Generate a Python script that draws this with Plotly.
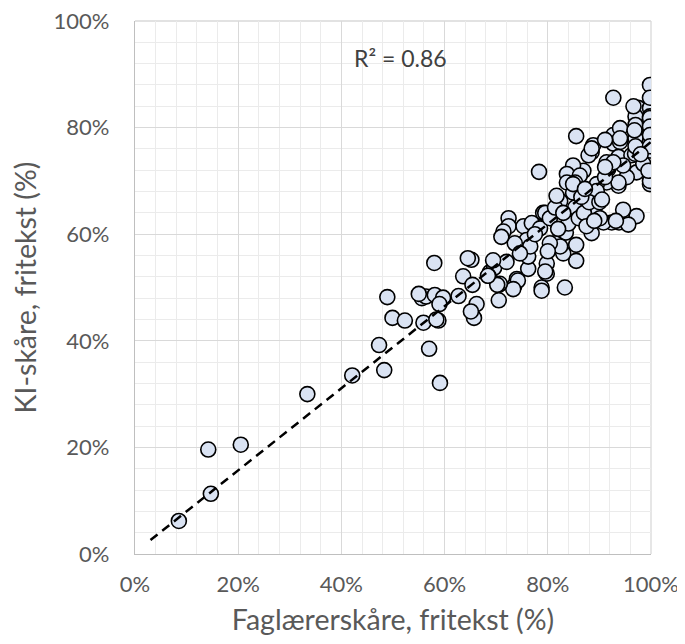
import plotly.graph_objects as go

# Teacher score (x, %) and AI score (y, %)
teacher_pct = [
    8.5, 14.7, 14.2, 20.5, 33.4, 42.1, 48.3, 47.3, 59.1, 57.0, 49.9, 52.3, 48.9, 55.9, 58.8, 58.4,
    55.6, 56.4, 58.1, 59.7, 59.0, 58.0, 62.7, 63.6, 65.2, 65.4, 66.2, 65.7, 65.1, 68.8, 69.6, 70.5,
    70.5, 74.0, 73.5, 72.0, 68.5,
    83.3, 85.5, 85.5, 83.0, 88.5, 83.5, 97.2, 93.8, 92.4, 90.8, 95.6, 94.6, 79.8, 79.8, 78.8, 78.8,
    74.2, 76.2, 73.3, 70.7, 76.2, 76.2, 72.4, 72.4, 74.6, 78.2, 79.1, 82.4, 81.4, 82.4, 99.8, 93.7,
    85.6, 78.3, 71.4, 69.4, 75.3, 76.9, 78.5, 79.5, 80.4, 81.4, 75.9, 73.6, 76.6, 74.6, 80.4, 81.7,
    92.7, 99.8, 85.5, 97.5, 99.8, 97.0, 99.8, 97.0, 99.8, 97.0, 99.8, 97.0, 99.8, 99.8, 88.8, 88.5,
    92.7, 92.7, 94.0, 93.7, 96.2, 97.2, 99.8, 91.4, 91.7, 87.9, 86.9, 84.9, 83.7, 86.2, 95.3, 94.6,
    92.7, 91.4, 89.5, 83.7, 85.3, 98.5, 99.5, 84.9, 96.6, 99.8, 99.8, 99.8, 99.8, 94.0, 94.0, 88.5,
    96.9, 84.9, 89.5, 85.3, 89.1, 90.1, 93.7, 91.1, 91.1, 91.1,
    84.0, 86.0, 87.0, 88.0, 90.0, 86.5, 83.0, 87.5, 89.0, 93.2, 70.2, 68.4, 55.0, 80.0, 79.5,
    97.0, 99.8, 96.8, 98.0, 90.5, 87.2, 82.0, 77.5, 71.0, 64.5,
]
ai_pct = [
    6.2, 11.3, 19.6, 20.5, 30.0, 33.5, 34.5, 39.2, 32.1, 38.5, 44.3, 43.8, 48.2, 43.4, 43.8, 44.0,
    48.0, 48.3, 48.6, 48.1, 46.9, 54.6, 48.4, 52.1, 55.2, 50.5, 46.9, 44.3, 45.5, 52.9, 53.7, 50.5,
    47.6, 51.6, 50.3, 54.8, 52.2,
    50.0, 55.0, 58.0, 56.4, 60.2, 60.3, 63.4, 62.2, 62.2, 62.2, 61.8, 64.6, 54.5, 52.6, 50.0, 49.4,
    51.3, 53.5, 49.7, 50.7, 55.8, 58.6, 63.0, 61.5, 58.0, 61.5, 64.0, 66.2, 58.3, 57.7, 69.4, 69.1,
    69.1, 71.7, 60.5, 55.1, 61.5, 62.1, 61.1, 64.0, 63.0, 65.0, 58.9, 58.3, 57.7, 56.4, 58.3, 67.2,
    85.6, 88.0, 78.4, 83.7, 83.7, 82.1, 82.1, 80.5, 80.5, 78.9, 78.9, 78.0, 77.3, 75.7, 76.7, 75.4,
    78.6, 77.0, 77.3, 74.5, 74.8, 71.6, 70.0, 73.5, 72.2, 74.8, 71.9, 72.9, 71.3, 71.0, 70.7, 72.9,
    73.5, 69.7, 69.4, 69.7, 69.7, 73.2, 71.9, 67.8, 84.0, 85.6, 81.8, 80.2, 78.6, 79.9, 78.0, 76.1,
    75.1, 69.4, 68.1, 65.0, 65.0, 63.0, 69.7, 70.7, 72.6, 77.7,
    62.0, 63.0, 64.0, 66.0, 66.0, 67.0, 64.0, 61.5, 62.5, 62.5, 50.5, 52.2, 48.8, 56.8, 53.0,
    76.5, 76.5, 79.5, 75.0, 66.5, 68.5, 61.0, 60.0, 59.5, 55.5,
]

# Linear trendline
trend_slope = 0.77
trend_intercept = 0.3
trend_x = [3, 100]
r2_label = "R² = 0.86"

x_tickvals = [0, 20, 40, 60, 80, 100]
x_ticktext = ["0%", "20%", "40%", "60%", "80%", "100%"]
y_tickvals = [0, 20, 40, 60, 80, 100]
y_ticktext = ["0%", "20%", "40%", "60%", "80%", "100%"]
minor_step = 4

x_title = "Faglærerskåre, fritekst (%)"
y_title = "KI-skåre, fritekst (%)"

trend_y = [trend_slope * v + trend_intercept for v in trend_x]
minor_vals = [v for v in range(0, 101, minor_step) if v not in x_tickvals]

FONT = "Lato, 'Open Sans', sans-serif"
TXT = "#595959"
GRID = "#d9d9d9"

fig = go.Figure()
fig.add_trace(go.Scatter(
    x=teacher_pct, y=ai_pct, mode="markers",
    marker=dict(size=15, color="#dae3f3", line=dict(color="#000000", width=1.6)),
    showlegend=False, hoverinfo="x+y",
))
fig.add_trace(go.Scatter(
    x=trend_x, y=trend_y, mode="lines",
    line=dict(color="#000000", width=2.5, dash="9px,6px"),
    showlegend=False, hoverinfo="skip",
))

axis_common = dict(
    range=[0, 100], showgrid=True, gridcolor=GRID, gridwidth=1,
    minor=dict(tickmode="array", tickvals=minor_vals, showgrid=True,
               gridcolor="#ebebeb", gridwidth=1, ticks=""),
    zeroline=False, showline=True, linecolor="#bfbfbf", linewidth=1.3,
    ticks="", tickfont=dict(family=FONT, size=22, color=TXT),
    ticklabeloverflow="allow",
    fixedrange=True, automargin=False,
)

# the page body has an 8px margin: shift the figure so the plot area lands at the same pixels
fig.update_layout(
    width=677, height=636,
    margin=dict(l=127, r=34, t=13, b=90, autoexpand=False),
    paper_bgcolor="white", plot_bgcolor="white",
    xaxis=dict(axis_common, tickmode="array", tickvals=x_tickvals, ticktext=x_ticktext,
               ticklabelstandoff=10,
               title=dict(text=x_title, font=dict(family=FONT, size=28.5, color=TXT), standoff=14)),
    yaxis=dict(axis_common, tickmode="array", tickvals=y_tickvals, ticktext=y_ticktext,
               ticklabelstandoff=20,
               title=dict(text=y_title, font=dict(family=FONT, size=28.5, color=TXT), standoff=8)),
    shapes=[
        dict(type="line", xref="paper", yref="paper", x0=0, x1=1, y0=1, y1=1,
             line=dict(color=GRID, width=1.3), layer="below"),
        dict(type="line", xref="paper", yref="paper", x0=1, x1=1, y0=0, y1=1,
             line=dict(color=GRID, width=1.3), layer="below"),
    ],
    annotations=[dict(
        x=51.4, y=93, xref="x", yref="y", text=r2_label, showarrow=False,
        font=dict(family=FONT, size=23, color="#404040"),
    )],
)

fig.write_html("out.html")
